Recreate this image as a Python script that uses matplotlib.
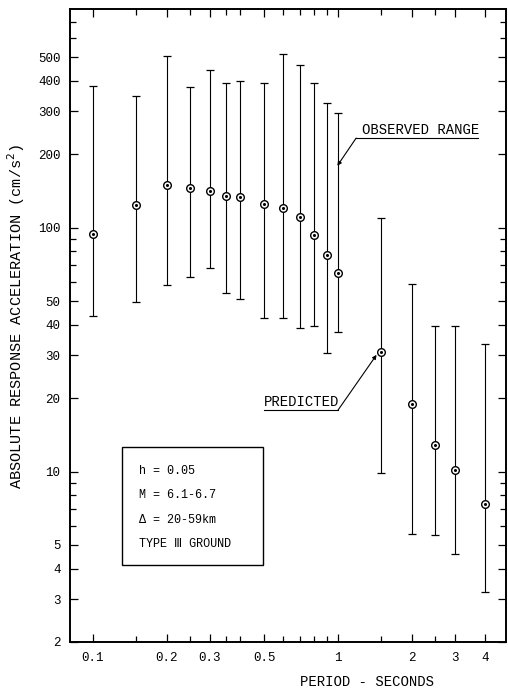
import numpy as np
import matplotlib
matplotlib.use("Agg")
import matplotlib.pyplot as plt
from matplotlib.patches import Rectangle
from matplotlib.ticker import FixedLocator, NullFormatter

plt.rcParams['font.family'] = ['Liberation Mono', 'DejaVu Sans Mono',
                               'DejaVu Sans', 'Noto Sans CJK SC']

# period (s) and response acceleration (cm/s^2)
period = [0.1, 0.15, 0.2, 0.25, 0.3, 0.35, 0.4, 0.5, 0.6, 0.7, 0.8, 0.9, 1.0,
          1.5, 2.0, 2.5, 3.0, 4.0]
predicted = [94, 124, 149, 146, 141, 135, 134, 125, 120, 111, 93, 77, 65.5,
             31, 19, 12.9, 10.1, 7.35]
obs_max = [382, 347, 507, 378, 442, 392, 400, 391, 518, 463, 391, 324, 295,
           110, 59, 39.6, 39.4, 33.4]
obs_min = [43.5, 49.8, 58.3, 63, 68.5, 53.9, 50.9, 42.8, 42.6, 38.7, 39.4,
           30.6, 37.4, 9.9, 5.56, 5.5, 4.6, 3.22]

xticks_major = [0.1, 0.2, 0.3, 0.5, 1, 2, 3, 4]
xticks_minor = [0.15, 0.25, 0.35, 0.4, 0.6, 0.7, 0.8, 0.9, 1.5, 2.5]
yticks_major = [2, 3, 4, 5, 10, 20, 30, 40, 50, 100, 200, 300, 400, 500]
yticks_minor = [6, 7, 8, 9, 60, 70, 80, 90, 600, 700]

box_lines = ["h = 0.05", "M = 6.1-6.7", "\u0394 = 20-59km", "TYPE \u2162 GROUND"]

fig = plt.figure(figsize=(5.08, 6.90), dpi=100)
ax = fig.add_axes([0.138, 0.0696, 0.858, 0.917])
ax.set_xscale('log')
ax.set_yscale('log')
ax.set_xlim(0.0808, 4.86)
ax.set_ylim(2, 787)

pred = np.array(predicted)
yerr = [pred - np.array(obs_min), np.array(obs_max) - pred]
ax.errorbar(period, pred, yerr=yerr, fmt='none', ecolor='black',
            elinewidth=0.8, capsize=3, capthick=0.9, zorder=2)
ax.plot(period, pred, linestyle='none', marker='o', markersize=5.5,
        markerfacecolor='white', markeredgecolor='black',
        markeredgewidth=1.0, zorder=3)
ax.plot(period, pred, linestyle='none', marker='o', markersize=1.2,
        color='black', zorder=4)

for s in ax.spines.values():
    s.set_linewidth(1.4)

ax.xaxis.set_major_locator(FixedLocator(xticks_major))
ax.xaxis.set_minor_locator(FixedLocator(xticks_minor))
ax.set_xticklabels(["0.1", "0.2", "0.3", "0.5", "1", "2", "3", "4"])
ax.xaxis.set_minor_formatter(NullFormatter())
ax.yaxis.set_major_locator(FixedLocator(yticks_major))
ax.yaxis.set_minor_locator(FixedLocator(yticks_minor))
ax.set_yticklabels([str(v) for v in yticks_major])
ax.yaxis.set_minor_formatter(NullFormatter())
ax.tick_params(which='both', direction='in', top=True, right=True,
               labelsize=9, width=0.9)
ax.tick_params(which='major', length=6, pad=7)
ax.tick_params(which='minor', length=4)

# annotations with underlined labels
ax.plot([1.188, 3.74], [233, 233], color='black', lw=0.8)
ax.annotate("", xy=(0.996, 179.5), xytext=(1.188, 233),
            arrowprops=dict(arrowstyle='-|>', color='black', lw=0.8,
                            mutation_scale=6, shrinkA=0, shrinkB=0))
ax.text(1.25, 236, "OBSERVED RANGE", fontsize=10, va='bottom', ha='left')

ax.plot([0.5, 1.0], [17.8, 17.8], color='black', lw=0.8)
ax.annotate("", xy=(1.44, 30.1), xytext=(1.0, 17.8),
            arrowprops=dict(arrowstyle='-|>', color='black', lw=0.8,
                            mutation_scale=6, shrinkA=0, shrinkB=0))
ax.text(0.5, 18.1, "PREDICTED", fontsize=10, va='bottom', ha='left')

# parameter box
ax.add_patch(Rectangle((0.1186, 0.1217), 0.3247, 0.186, transform=ax.transAxes,
                       fill=False, edgecolor='black', lw=1.0))
for i, t in enumerate(box_lines):
    ax.text(0.158, [0.270, 0.232, 0.193, 0.155][i], t, transform=ax.transAxes,
            fontsize=8.5, va='center', ha='left')

fig.text(0.0315, 0.542, "ABSOLUTE RESPONSE ACCELERATION (cm/s$^2$)",
         rotation=90, ha='center', va='center', fontsize=11)
fig.text(0.722, 0.0116, "PERIOD - SECONDS", ha='center', va='center',
         fontsize=10)

fig.savefig("out.png", dpi=100)
